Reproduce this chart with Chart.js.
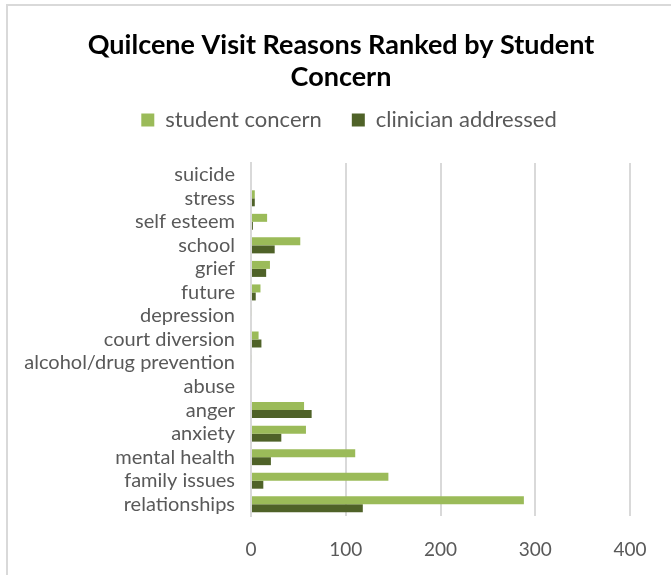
<!DOCTYPE html>
<html>
<head>
<meta charset="utf-8">
<script src="https://cdn.jsdelivr.net/npm/chart.js@4"></script>
<style>
  html, body { margin: 0; padding: 0; background: #fff; }
  #wrap { position: relative; width: 671px; height: 575px; overflow: hidden; }
  #frame { position: absolute; left: 6px; top: 4px; width: 700px; height: 600px; border-left: 2px solid #d9d9d9; border-top: 2px solid #d9d9d9; box-sizing: border-box; }
  canvas { position: absolute; left: 0; top: 0; }
</style>
</head>
<body>
<div id="wrap">
  <div id="frame"></div>
  <canvas id="c" width="671" height="575"></canvas>
</div>
<script>
const categories = ["suicide", "stress", "self esteem", "school", "grief", "future", "depression", "court diversion", "alcohol/drug prevention", "abuse", "anger", "anxiety", "mental health", "family issues", "relationships"];
const studentConcern = [0, 4, 17, 52, 20, 10, 1, 8, 1, 0, 56, 58, 110, 145, 288];
const clinicianAddressed = [0, 4, 2, 25, 16, 5, 0, 11, 0, 0, 64, 32, 21, 13, 118];
const xTicks = [0, 100, 200, 300, 400];

const FONT = "Lato, 'Open Sans', sans-serif";

const headerLayout = {
  id: 'headerLayout',
  beforeInit(chart) {
    const orig = chart.legend.fit;
    chart.legend.fit = function () {
      orig.bind(chart.legend)();
      this.height += 22;
    };
  },
  afterLayout(chart) {
    if (chart.titleBlock) { chart.titleBlock.left += 26; chart.titleBlock.right += 26; }
    if (chart.legend) { chart.legend.left += 34; chart.legend.right += 34; }
  }
};

new Chart(document.getElementById('c'), {
  type: 'bar',
  data: {
    labels: categories,
    datasets: [
      { label: 'student concern', data: studentConcern, backgroundColor: '#9BBB59', borderWidth: 0 },
      { label: 'clinician addressed', data: clinicianAddressed, backgroundColor: '#4F6228', borderWidth: 0 }
    ]
  },
  plugins: [headerLayout],
  options: {
    indexAxis: 'y',
    responsive: false,
    animation: false,
    devicePixelRatio: 1,
    categoryPercentage: 0.68,
    barPercentage: 1.0,
    layout: { padding: { left: 0, right: 41, top: 29, bottom: 0 } },
    plugins: {
      title: {
        display: true,
        text: ['Quilcene Visit Reasons Ranked by Student', 'Concern'],
        color: '#000',
        font: { family: FONT, size: 27, weight: 'bold', lineHeight: 32 / 27 },
        padding: { top: 0, bottom: -14 }
      },
      legend: {
        display: true,
        position: 'top',
        labels: {
          color: '#595959',
          font: { family: FONT, size: 22 },
          boxWidth: 13,
          boxHeight: 13,
          padding: 30
        }
      },
      tooltip: { enabled: false }
    },
    scales: {
      x: {
        min: 0,
        max: 400,
        afterBuildTicks: (s) => { s.ticks = xTicks.map(v => ({ value: v })); },
        grid: { color: '#d9d9d9', lineWidth: 2, drawTicks: false },
        border: { display: false },
        ticks: { color: '#595959', font: { family: FONT, size: 19 }, padding: 22 },
        afterFit: (s) => { s.height = 59; }
      },
      y: {
        grid: { display: false, drawTicks: false },
        border: { display: true, color: '#d9d9d9', width: 2 },
        ticks: { color: '#595959', font: { family: FONT, size: 20 }, padding: 16, autoSkip: false },
        afterFit: (s) => { s.width = 251; }
      }
    }
  }
});
</script>
</body>
</html>
